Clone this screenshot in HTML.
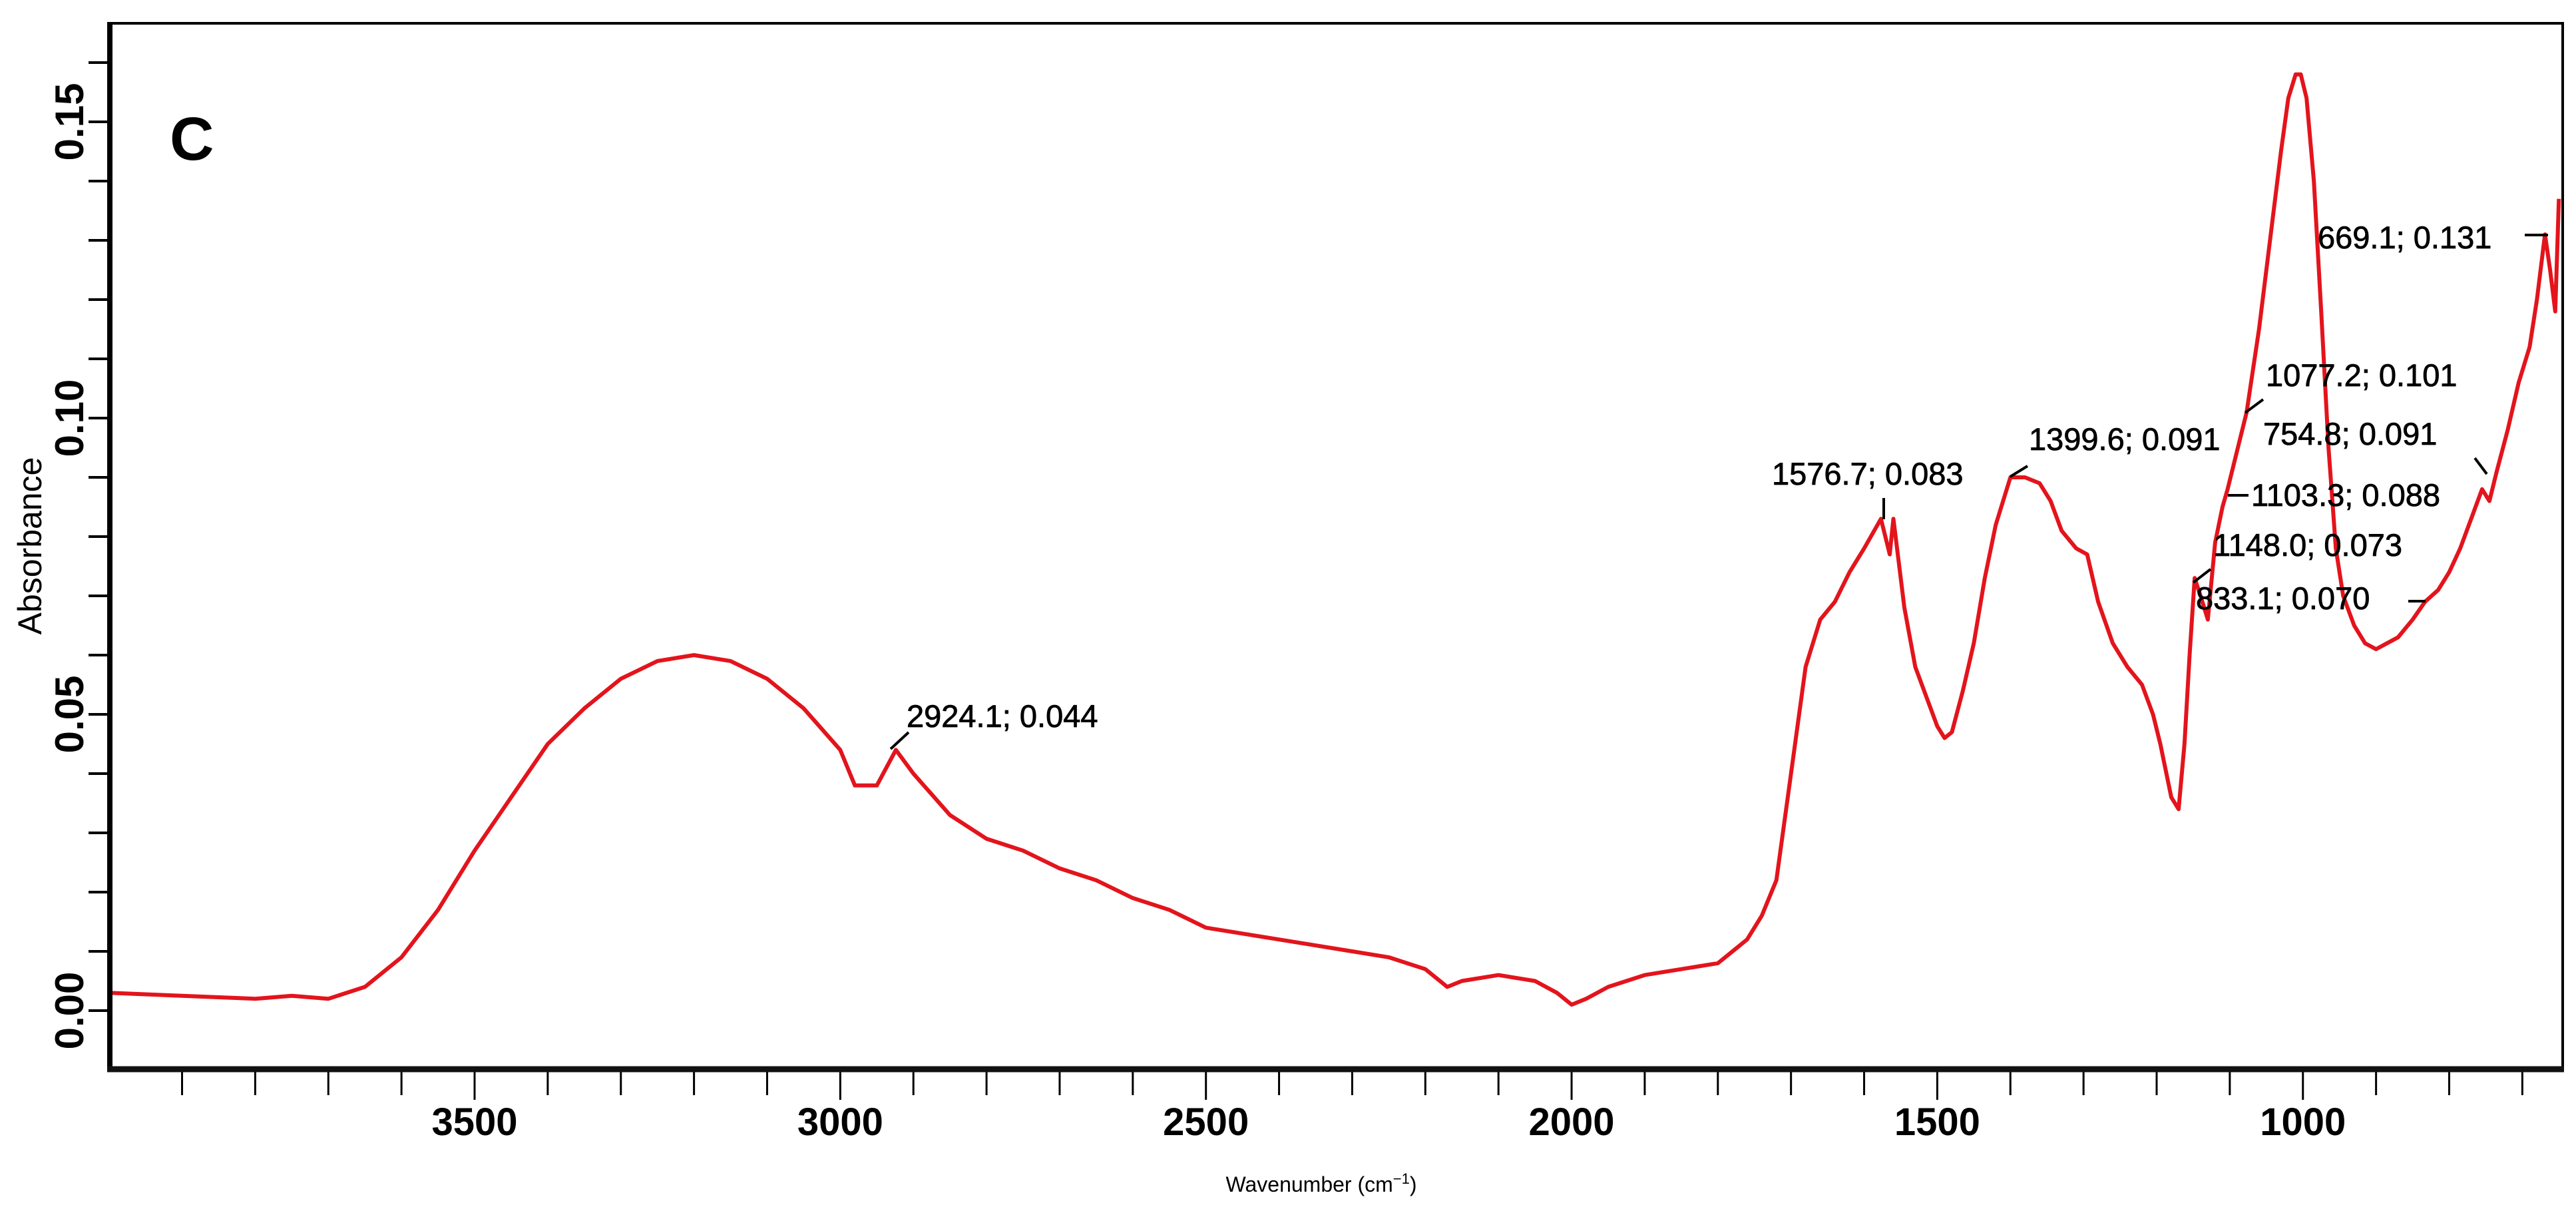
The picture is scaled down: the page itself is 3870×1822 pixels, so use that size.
<!DOCTYPE html>
<html><head><meta charset="utf-8">
<style>
html,body{margin:0;padding:0;background:#fff;}
svg{display:block;}
text{font-family:"Liberation Sans",sans-serif;fill:#000;}
</style></head>
<body>
<svg id="chart" width="3870" height="1822" viewBox="0 0 3870 1822" xmlns="http://www.w3.org/2000/svg">
  <rect x="0" y="0" width="3870" height="1822" fill="#fff"/>
  <g id="ticks"></g>
  <path id="spectrum" fill="none" stroke="#e3141c" stroke-width="6" stroke-linejoin="round"/>
  <rect x="165" y="35" width="3685" height="1569" fill="none" stroke="#000" stroke-width="4"/>
  <line x1="165" y1="33" x2="165" y2="1608" stroke="#000" stroke-width="8"/>
  <line x1="161" y1="1606" x2="3852" y2="1606" stroke="#111" stroke-width="9"/>
  <text x="255" y="240" font-size="92" font-weight="bold">C</text>
  <text transform="translate(62,820) rotate(-90)" text-anchor="middle" font-size="50">Absorbance</text>
  <text x="1985" y="1790" text-anchor="middle" font-size="32">Wavenumber (cm<tspan font-size="22" dy="-12">−1</tspan><tspan dy="12">)</tspan></text>
  <g id="annots" font-size="47" stroke="#000" stroke-width="0.8"></g>
</svg>
<script>
const wavenumbers = [4000,3900,3800,3750,3700,3650,3600,3550,3500,3450,3400,3350,3300,3250,3200,3150,3100,3050,3000,2980,2950,2924,2900,2850,2800,2750,2700,2650,2600,2550,2500,2450,2400,2350,2300,2250,2200,2170,2150,2100,2050,2020,2000,1980,1950,1900,1850,1800,1780,1760,1740,1720,1700,1680,1660,1640,1620,1600,1577,1565,1560,1545,1530,1515,1500,1490,1480,1465,1450,1435,1420,1400,1380,1360,1345,1330,1310,1295,1280,1260,1240,1220,1205,1195,1180,1170,1162,1155,1148,1140,1130,1120,1110,1103,1095,1077,1060,1045,1030,1020,1010,1003,995,985,975,965,955,945,930,915,900,885,870,850,833,815,800,785,770,755,745,735,720,705,690,680,669,662,655,650];
const absorbance = [0.003,0.0025,0.002,0.0025,0.002,0.004,0.009,0.017,0.027,0.036,0.045,0.051,0.056,0.059,0.060,0.059,0.056,0.051,0.044,0.038,0.038,0.044,0.040,0.033,0.029,0.027,0.024,0.022,0.019,0.017,0.014,0.013,0.012,0.011,0.010,0.009,0.007,0.004,0.005,0.006,0.005,0.003,0.001,0.002,0.004,0.006,0.007,0.008,0.010,0.012,0.016,0.022,0.040,0.058,0.066,0.069,0.074,0.078,0.083,0.077,0.083,0.068,0.058,0.053,0.048,0.046,0.047,0.054,0.062,0.073,0.082,0.090,0.090,0.089,0.086,0.081,0.078,0.077,0.069,0.062,0.058,0.055,0.050,0.045,0.036,0.034,0.045,0.060,0.073,0.070,0.066,0.079,0.085,0.088,0.092,0.101,0.115,0.130,0.145,0.154,0.158,0.158,0.154,0.140,0.118,0.095,0.078,0.070,0.065,0.062,0.061,0.062,0.063,0.066,0.069,0.071,0.074,0.078,0.083,0.088,0.086,0.091,0.098,0.106,0.112,0.120,0.131,0.125,0.118,0.137];
const yTickLabels = ["0.00","0.05","0.10","0.15"];
const yTickValues = [0,0.05,0.10,0.15];
const xTickLabels = ["3500","3000","2500","2000","1500","1000"];
const xTickValues = [3500,3000,2500,2000,1500,1000];
const annotLabels = ["2924.1; 0.044","1576.7; 0.083","1399.6; 0.091","1077.2; 0.101","754.8; 0.091","1103.3; 0.088","1148.0; 0.073","833.1; 0.070","669.1; 0.131"];

const X = w => 713 + (3500 - w) * 1.0987;
const Y = a => 1518 - a * 8900;
const NS = "http://www.w3.org/2000/svg";
const svg = document.getElementById('chart');

let d = '';
wavenumbers.forEach((w,i) => { d += (i ? 'L' : 'M') + X(w).toFixed(1) + ',' + Y(absorbance[i]).toFixed(1); });
document.getElementById('spectrum').setAttribute('d', d);

const ticks = document.getElementById('ticks');
function mk(tag, attrs, parent){ const e = document.createElementNS(NS, tag); for (const k in attrs) e.setAttribute(k, attrs[k]); parent.appendChild(e); return e; }

for (let i = 0; i <= 16; i++) {
  const t = mk('line', {x1:133, x2:165, y1:Y(i*0.01), y2:Y(i*0.01), stroke:'#000', 'stroke-width':4}, ticks);
  
  
}
yTickValues.forEach((v,i) => {
  const t = mk('text', {transform:'translate(125,'+Y(v)+') rotate(-90)', 'text-anchor':'middle', 'font-size':60, 'font-weight':'bold'}, svg);
  t.textContent = yTickLabels[i];
  
  
});
for (let w = 3900; w >= 700; w -= 100) {
  const major = w % 500 === 0;
  const t = mk('line', {x1:X(w), x2:X(w), y1:1608, y2: major ? 1652 : 1645, stroke:'#000', 'stroke-width':3}, ticks);
  
  
}
xTickValues.forEach((v,i) => {
  const t = mk('text', {x:X(v), y:1705, 'text-anchor':'middle', 'font-size':58, 'font-weight':'bold'}, svg);
  t.textContent = xTickLabels[i];
  
  
});

const annotPos = [[1362,1092],[2662,728],[3048,676],[3404,580],[3400,668],[3382,760],[3325,835],[3299,915],[3482,373]];
const annots = document.getElementById('annots');
annotLabels.forEach((s,i) => {
  const t = mk('text', {x:annotPos[i][0], y:annotPos[i][1]}, annots);
  t.textContent = s;
  
  
});
const leaders = [[1338,1125,1365,1100],[2830,748,2830,780],[3020,716,3046,700],[3373,620,3400,600],[3718,688,3736,712],[3347,744,3378,744],[3295,875,3321,855],[3618,903,3644,903],[3793,353,3828,353]];
leaders.forEach(l => {
  const e = mk('line', {x1:l[0], y1:l[1], x2:l[2], y2:l[3], stroke:'#000', 'stroke-width':4}, annots);
  
  
});
</script>
</body></html>
